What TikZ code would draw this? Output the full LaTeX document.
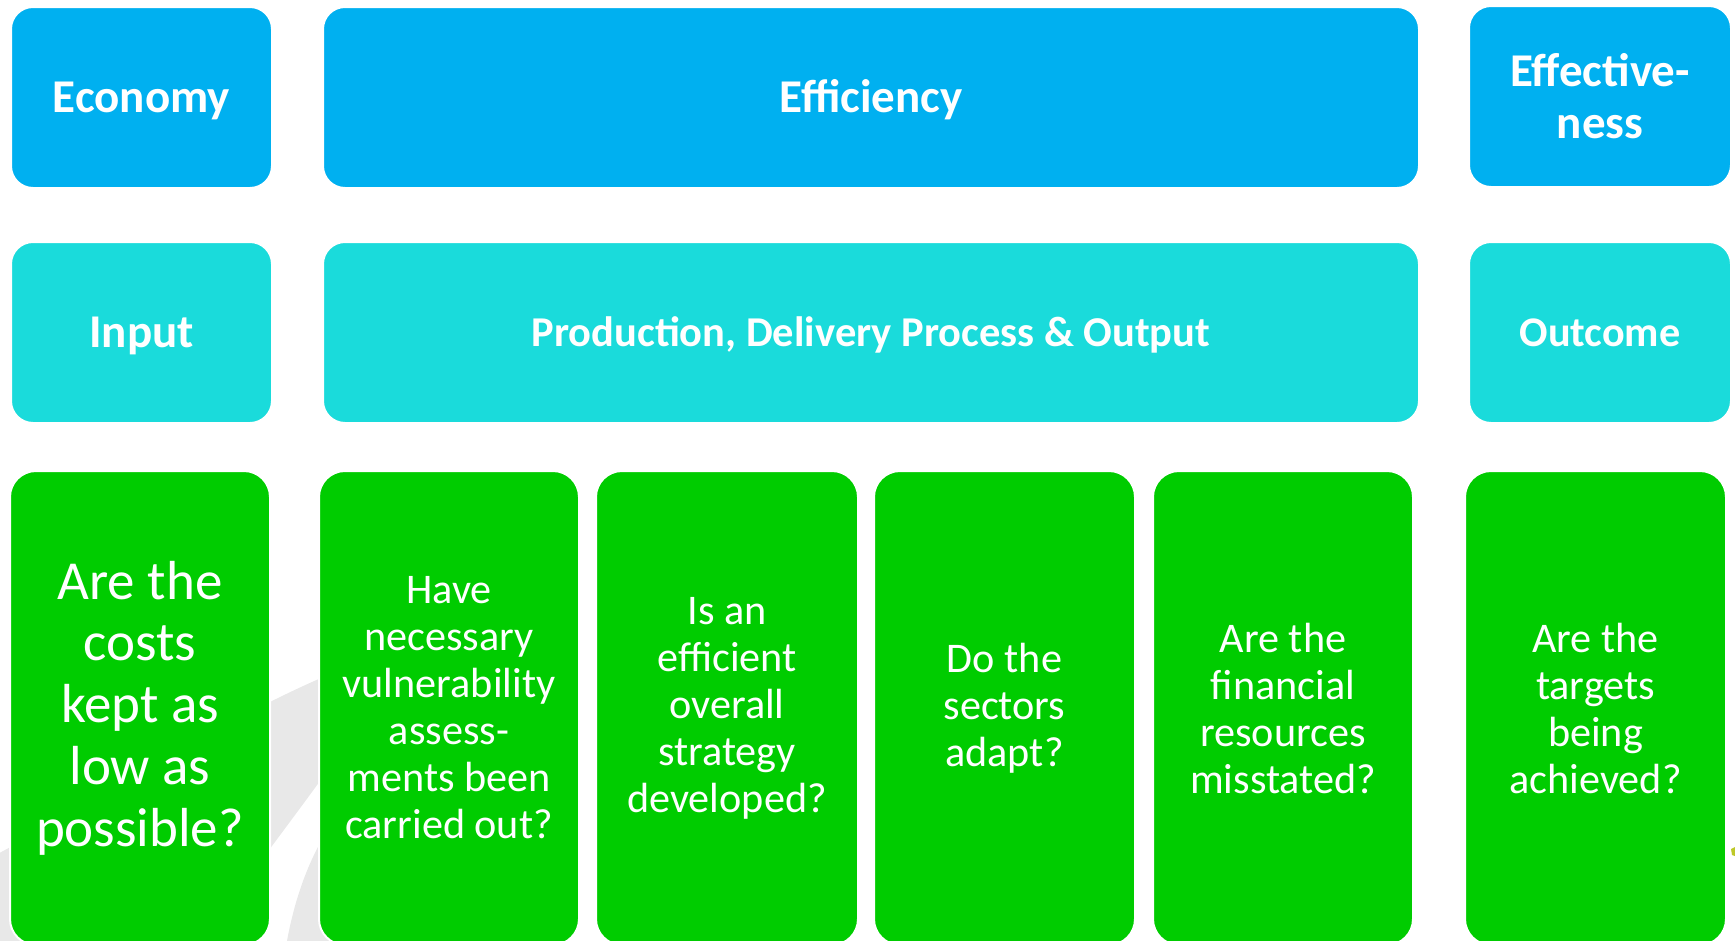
\documentclass[tikz,border=0pt]{standalone}
\usepackage{fontspec}
\setmainfont{Carlito}
\definecolor{tierblue}{RGB}{0,176,240}
\definecolor{tiercyan}{RGB}{26,219,219}
\definecolor{askgreen}{RGB}{0,204,0}
\definecolor{markgrey}{RGB}{232,232,232}
\definecolor{markolive}{RGB}{190,200,40}
\begin{document}
\begin{tikzpicture}[x=1pt,y=-1pt,
  panel/.style={rounded corners=22pt, inner sep=0pt, outer sep=0pt,
    draw=white, line width=2pt, text=white, align=center,
    minimum height=181pt},
  headbox/.style={panel, fill=tierblue,
    font=\bfseries\fontsize{47}{52}\selectfont},
  stagebox/.style={panel, fill=tiercyan,
    font=\bfseries\fontsize{47}{52}\selectfont},
  oneline/.style={text height=#1, text depth=0pt},
  askbox/.style={rounded corners=26pt, inner sep=0pt, outer sep=0pt,
    draw=white, line width=2pt, fill=askgreen, text=white, align=center,
    minimum height=474pt, font=\fontsize{42.2}{47}\selectfont}
]
\useasboundingbox (0,0) rectangle (1735,940);

% faint watermark swoosh behind the question cards
\fill[markgrey] (-10,858) .. controls (100,800) and (220,720) .. (335,672)
  -- (335,760) .. controls (300,810) and (230,900) .. (190,960) -- (-10,960) -- cycle;
\fill[markgrey] (335,820) .. controls (312,850) and (292,900) .. (284,960)
  -- (335,960) -- cycle;
\fill[markolive] (1731,849) -- (1735,847) -- (1735,856) -- (1732,855) -- cycle;

% top tier: the three criteria
\node[headbox, oneline=30pt, minimum width=261pt] (economy) at (141.5,97.5) {Economy};
\node[headbox, oneline=30pt, minimum width=1096pt] (efficiency) at (871,97.5) {Efficiency};
\node[headbox, minimum width=262pt] (effectiveness) at (1600,96.5) {Effective-\\ness};

% middle tier: the stages
\node[stagebox, oneline=30pt, minimum width=261pt] (input) at (141.5,332.5) {Input};
\node[stagebox, oneline=27pt, minimum width=1096pt, font=\bfseries\fontsize{42.5}{48}\selectfont]
  (process) at (871,332.5) {Production, Delivery Process \& Output};
\node[stagebox, minimum width=262pt, font=\bfseries\fontsize{42.2}{48}\selectfont]
  (outcome) at (1600,332.5) {Outcome};

% bottom tier: the audit questions
\node[askbox, minimum width=260pt, font=\fontsize{55}{61.7}\selectfont]
  (costs) at (140,708) {Are the\\costs\\kept as\\low as\\possible?};
\node[askbox, minimum width=260pt] (assess) at (449,708)
  {Have\\necessary\\vulnerability\\assess-\\ments been\\carried out?};
\node[askbox, minimum width=262pt] (strategy) at (727,708)
  {Is an\\efficient\\overall\\strategy\\developed?};
\node[askbox, minimum width=261pt] (sectors) at (1004.5,708)
  {Do the\\sectors\\adapt?};
\node[askbox, minimum width=260pt] (finance) at (1283,708)
  {Are the\\financial\\resources\\misstated?};
\node[askbox, minimum width=261pt] (targets) at (1595.5,708)
  {Are the\\targets\\being\\achieved?};
\end{tikzpicture}
\end{document}
